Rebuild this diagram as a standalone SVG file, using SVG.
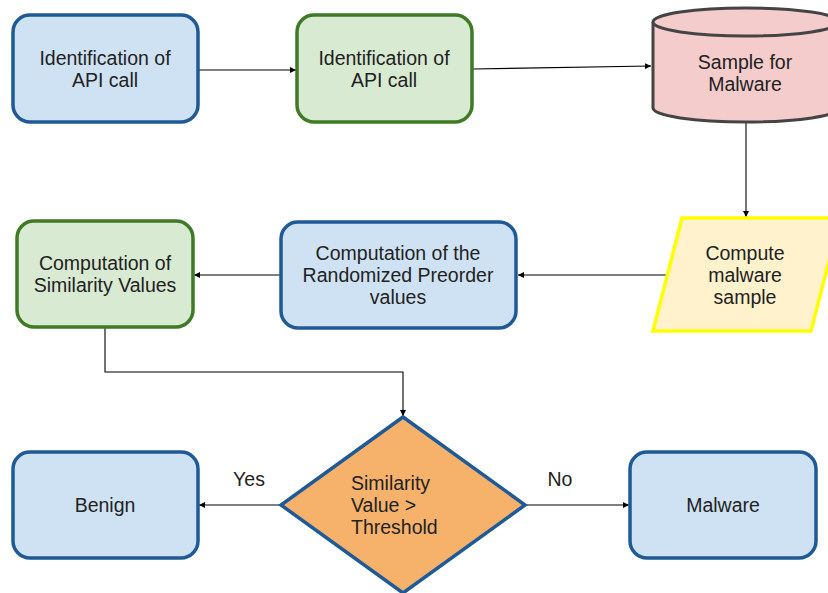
<svg xmlns="http://www.w3.org/2000/svg" width="828" height="593" viewBox="0 0 828 593">
<defs>
<marker id="ah" viewBox="0 0 10 10" refX="10" refY="5" markerWidth="6" markerHeight="6" markerUnits="userSpaceOnUse" orient="auto">
<path d="M0,0 L10,5 L0,10 z" fill="#000"/>
</marker>
<style>
.blue{fill:#cfe2f3;stroke:#1f5a96;stroke-width:3.5}
.green{fill:#d9ead3;stroke:#3f7a26;stroke-width:3.5}
.t{font-family:"Liberation Sans",Arial,sans-serif;font-size:19.5px;fill:#222;text-anchor:middle}
.tl{font-family:"Liberation Sans",Arial,sans-serif;font-size:19.5px;fill:#222}
.c{fill:none;stroke:#000;stroke-width:1.1;marker-end:url(#ah)}
</style>
</defs>
<rect width="828" height="593" fill="#fff"/>
<g id="connectors">
<line class="c" x1="199" y1="70" x2="296" y2="70"/>
<line class="c" x1="473" y1="69" x2="651" y2="66"/>
<line class="c" x1="746" y1="123" x2="746" y2="217"/>
<line class="c" x1="667" y1="275" x2="518" y2="275"/>
<line class="c" x1="281" y1="275" x2="194" y2="275"/>
<polyline class="c" points="105,328 105,372 403,372 403,416"/>
<line class="c" x1="281" y1="505" x2="199" y2="505"/>
<line class="c" x1="525" y1="505" x2="629" y2="505"/>
<text class="t" x="249" y="486">Yes</text>
<text class="t" x="560" y="486">No</text>
</g>
<g id="n1">
<rect class="blue" x="13" y="15" width="185" height="107" rx="17"/>
<text class="t" x="105" y="65">Identification of</text>
<text class="t" x="105" y="87">API call</text>
</g>
<g id="n2">
<rect class="green" x="297" y="15" width="175" height="107" rx="17"/>
<text class="t" x="384" y="65">Identification of</text>
<text class="t" x="384" y="87">API call</text>
</g>
<g id="n3">
<path d="M653,22 L653,108 A93,14 0 0 0 839,108 L839,22" fill="#f4cccc" stroke="#444" stroke-width="3"/>
<ellipse cx="746" cy="22" rx="93" ry="14" fill="#f4cccc" stroke="#444" stroke-width="3"/>
<text class="t" x="745" y="69">Sample for</text>
<text class="t" x="745" y="91">Malware</text>
</g>
<g id="n4">
<polygon points="682,218 840,218 811,331 653,331" fill="#fff2cc" stroke="#ffff00" stroke-width="3.5"/>
<text class="t" x="745" y="260">Compute</text>
<text class="t" x="745" y="282">malware</text>
<text class="t" x="745" y="304">sample</text>
</g>
<g id="n5">
<rect class="blue" x="281" y="222" width="235" height="106" rx="17"/>
<text class="t" x="398" y="260">Computation of the</text>
<text class="t" x="398" y="282">Randomized Preorder</text>
<text class="t" x="398" y="304">values</text>
</g>
<g id="n6">
<rect class="green" x="17" y="221" width="176" height="106" rx="17"/>
<text class="t" x="105" y="270">Computation of</text>
<text class="t" x="105" y="292">Similarity Values</text>
</g>
<g id="n7">
<polygon points="403,417 525,505 403,593 281,505" fill="#f6b26b" stroke="#1f5a96" stroke-width="3.5"/>
<text class="tl" x="351" y="490">Similarity</text>
<text class="tl" x="351" y="512">Value &gt;</text>
<text class="tl" x="351" y="534">Threshold</text>
</g>
<g id="n8">
<rect class="blue" x="13" y="452" width="185" height="106" rx="17"/>
<text class="t" x="105" y="512">Benign</text>
</g>
<g id="n9">
<rect class="blue" x="630" y="452" width="186" height="106" rx="17"/>
<text class="t" x="723" y="512">Malware</text>
</g>
</svg>
